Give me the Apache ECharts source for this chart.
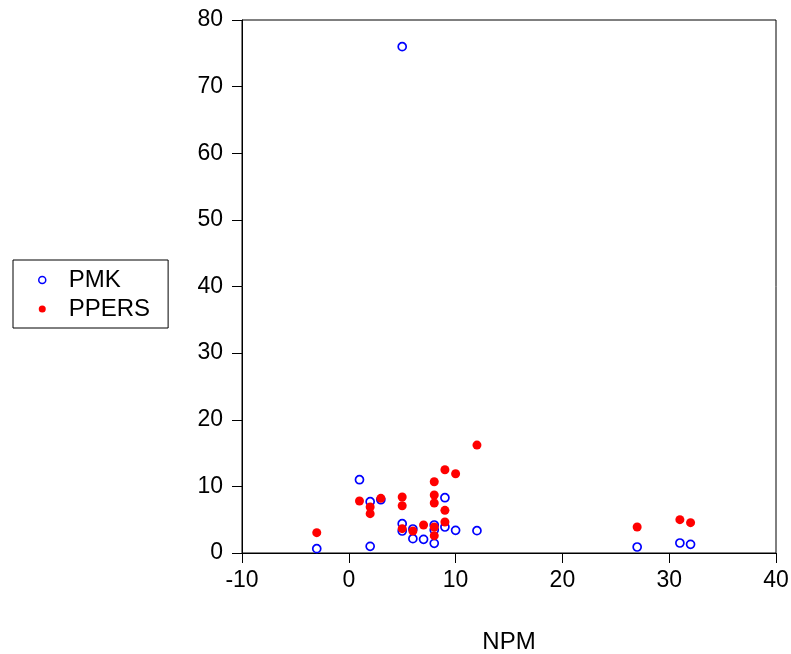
<!DOCTYPE html>
<html>
<head>
<meta charset="utf-8">
<script src="https://cdn.jsdelivr.net/npm/echarts@6/dist/echarts.min.js"></script>
<style>
  html, body { margin: 0; padding: 0; background: #fff; }
  #chart { width: 791px; height: 654px; }
</style>
</head>
<body>
<div id="chart"></div>
<script>
const xTicks = [-10, 0, 10, 20, 30, 40];
const yTicks = [0, 10, 20, 30, 40, 50, 60, 70, 80];

const pmkX = [-3, 1, 2, 2, 3, 5, 5, 5, 6, 6, 7, 8, 8, 8, 9, 9, 10, 12, 27, 31, 32];
const pmkY = [0.65, 11.0, 7.7, 1.0, 8.0, 76.0, 4.4, 3.3, 3.6, 2.15, 2.05, 4.2, 3.45, 1.45, 8.3, 3.9, 3.4, 3.35, 0.9, 1.5, 1.3];

const ppersX = [-3, 1, 2, 2, 3, 5, 5, 5, 6, 7, 8, 8, 8, 8, 8, 9, 9, 9, 10, 12, 27, 31, 32];
const ppersY = [3.05, 7.8, 6.9, 5.9, 8.2, 8.4, 7.1, 3.65, 3.3, 4.2, 10.7, 8.7, 7.5, 3.9, 2.6, 12.5, 6.4, 4.65, 11.9, 16.2, 3.9, 5.0, 4.55];

const seriesNames = ['PMK', 'PPERS'];
const xName = 'NPM';

const font = 'Liberation Sans, Arial, sans-serif';
const pair = (xs, ys) => xs.map((x, i) => [x, ys[i]]);

const chart = echarts.init(document.getElementById('chart'), null, { renderer: 'canvas' });
chart.setOption({
  animation: false,
  backgroundColor: '#ffffff',
  grid: {
    left: 242, top: 20, right: 15, bottom: 101,
    containLabel: false,
    outerBoundsMode: 'none',
    show: true, borderColor: '#000', borderWidth: 1, backgroundColor: 'transparent'
  },
  legend: {
    orient: 'vertical',
    left: 13, top: 260,
    padding: [8, 18, 7, 25],
    itemGap: 5,
    itemWidth: 7,
    itemHeight: 7,
    borderColor: '#000',
    borderWidth: 1,
    borderRadius: 0,
    backgroundColor: '#fff',
    selectedMode: false,
    textStyle: { fontFamily: font, fontSize: 24, color: '#000', lineHeight: 24, padding: [0, 0, 0, 18] },
    data: [
      { name: seriesNames[0], icon: 'circle', itemStyle: { color: '#fff', borderColor: '#0000ff', borderWidth: 1.5 } },
      { name: seriesNames[1], icon: 'circle', itemStyle: { color: '#ff0000', borderWidth: 0 } }
    ]
  },
  xAxis: {
    type: 'value',
    min: xTicks[0], max: xTicks[xTicks.length - 1], interval: 10,
    name: xName, nameLocation: 'middle', nameGap: 77,
    nameTextStyle: { fontFamily: font, fontSize: 24, color: '#000' },
    axisLine: { show: true, onZero: false, lineStyle: { color: '#000', width: 1 } },
    axisTick: { show: true, inside: false, length: 10, lineStyle: { color: '#000' } },
    axisLabel: { margin: 16, fontFamily: font, fontSize: 23, color: '#000' },
    splitLine: { show: false }
  },
  yAxis: {
    type: 'value',
    min: yTicks[0], max: yTicks[yTicks.length - 1], interval: 10,
    axisLine: { show: true, onZero: false, lineStyle: { color: '#000', width: 1 } },
    axisTick: { show: true, inside: false, length: 10, lineStyle: { color: '#000' } },
    axisLabel: { margin: 19, fontFamily: font, fontSize: 23, color: '#000' },
    splitLine: { show: false }
  },
  series: [
    {
      name: seriesNames[0], type: 'scatter',
      symbol: 'circle', symbolSize: 8,
      itemStyle: { color: '#ffffff', borderColor: '#0000ff', borderWidth: 1.7, opacity: 1 },
      data: pair(pmkX, pmkY)
    },
    {
      name: seriesNames[1], type: 'scatter',
      symbol: 'circle', symbolSize: 9,
      itemStyle: { color: '#ff0000', opacity: 1 },
      data: pair(ppersX, ppersY)
    }
  ]
});
</script>
</body>
</html>
